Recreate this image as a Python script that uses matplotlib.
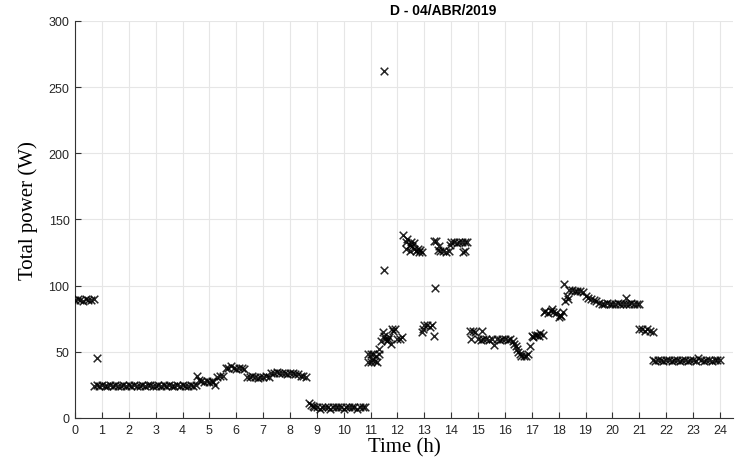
import matplotlib
matplotlib.use("Agg")
import matplotlib.pyplot as plt

# Readings, as (hour of day, total power in W)
night = [
    (0.0, 89), (0.1, 90), (0.2, 89), (0.3, 88), (0.4, 90), (0.5, 89),
    (0.6, 89), (0.7, 90), (0.8, 45),
    (0.7, 24), (0.8, 25), (0.9, 24), (1.0, 25), (1.1, 24), (1.2, 24),
    (1.3, 25), (1.4, 24), (1.5, 25), (1.6, 24), (1.7, 24), (1.8, 25),
    (1.9, 24), (2.0, 25), (2.1, 24), (2.2, 25), (2.3, 24), (2.4, 24),
    (2.5, 25), (2.6, 24), (2.7, 25), (2.8, 25), (2.9, 24), (3.0, 24),
    (3.1, 25), (3.2, 24), (3.3, 25), (3.4, 24), (3.5, 25), (3.6, 24),
    (3.7, 24), (3.8, 25), (3.9, 24), (4.0, 25), (4.1, 24), (4.2, 24),
    (4.3, 25), (4.4, 24), (4.5, 25),
]
morning = [
    (4.55, 32), (4.6, 29), (4.7, 28), (4.8, 27), (4.9, 28), (5.0, 27),
    (5.1, 28), (5.15, 27), (5.2, 25),
    (5.3, 31), (5.4, 32), (5.5, 32),
    (5.6, 38), (5.7, 38), (5.8, 39), (5.9, 38), (6.0, 37), (6.1, 38),
    (6.2, 38), (6.3, 37),
    (6.4, 31), (6.5, 31), (6.6, 32), (6.7, 31), (6.8, 30), (6.9, 31),
    (7.0, 31), (7.1, 32), (7.2, 31),
    (7.3, 34), (7.4, 34), (7.5, 35), (7.6, 34), (7.7, 34), (7.8, 34),
    (7.9, 33), (8.0, 34), (8.1, 34), (8.2, 33), (8.3, 33), (8.4, 32),
    (8.5, 32), (8.6, 31),
    (8.7, 11), (8.8, 10), (8.85, 9),
    (8.9, 8), (9.0, 8), (9.1, 7), (9.2, 8), (9.3, 8), (9.4, 8), (9.5, 7),
    (9.6, 8), (9.7, 8), (9.8, 8), (9.9, 8), (10.0, 7), (10.1, 8),
    (10.2, 8), (10.3, 8), (10.4, 8), (10.5, 7), (10.6, 8), (10.7, 8),
    (10.8, 8),
]
midday = [
    (10.9, 48), (11.0, 48), (11.1, 48), (11.2, 47), (11.3, 48),
    (10.9, 42), (11.0, 42), (11.15, 43), (11.25, 42), (11.05, 44),
    (11.3, 52), (11.4, 58), (11.45, 65), (11.5, 262), (11.5, 112),
    (11.5, 62), (11.55, 60), (11.6, 58), (11.65, 60), (11.7, 61),
    (11.75, 56), (11.8, 67), (11.85, 66), (11.9, 67), (12.0, 60),
    (12.1, 60), (12.15, 61),
    (12.2, 138), (12.3, 133), (12.35, 135), (12.45, 131), (12.3, 128),
    (12.5, 133), (12.55, 130), (12.6, 128), (12.7, 126), (12.75, 128),
    (12.8, 125), (12.9, 125), (12.45, 126), (12.6, 132), (12.85, 127),
    (12.9, 65), (12.95, 67), (13.0, 70), (13.1, 70), (13.2, 69),
    (13.3, 70), (13.35, 62), (13.38, 98),
    (13.35, 134), (13.45, 134), (13.5, 127), (13.55, 130), (13.6, 126),
    (13.7, 126), (13.8, 125), (13.9, 126), (13.95, 131), (14.0, 133),
    (14.1, 133), (14.2, 132), (14.3, 133), (14.4, 133), (14.5, 133),
    (14.6, 133), (14.45, 125), (14.5, 126),
]
afternoon = [
    (14.7, 66), (14.8, 66), (14.9, 65), (14.75, 60), (15.0, 60),
    (15.1, 59), (15.13, 66), (15.2, 60), (15.3, 60), (15.4, 59),
    (15.5, 60), (15.6, 55), (15.7, 60), (15.8, 59), (15.9, 60),
    (16.0, 60), (16.1, 59), (16.2, 60),
    (16.3, 58), (16.35, 56), (16.4, 54), (16.45, 52), (16.5, 50),
    (16.55, 48), (16.6, 47), (16.7, 47), (16.8, 47), (16.85, 48),
    (16.92, 54),
    (17.0, 62), (17.05, 61), (17.1, 63), (17.2, 63), (17.25, 62),
    (17.3, 64), (17.4, 63),
]
evening = [
    (17.45, 80), (17.5, 81), (17.6, 79), (17.7, 81), (17.75, 82),
    (17.8, 80), (17.9, 79), (18.0, 76), (18.05, 78), (18.1, 77),
    (18.15, 80),
    (18.2, 101), (18.25, 88), (18.3, 92), (18.35, 90), (18.4, 97),
    (18.5, 97), (18.6, 96), (18.7, 96), (18.8, 96), (18.9, 95),
    (19.0, 92), (19.1, 91), (19.2, 90), (19.3, 89), (19.4, 88),
    (19.5, 87), (19.6, 86), (19.7, 86), (19.8, 87), (19.9, 86),
    (20.0, 86), (20.1, 86), (20.2, 87), (20.3, 86), (20.4, 86),
    (20.5, 86), (20.5, 91), (20.6, 86), (20.7, 87), (20.8, 86),
    (20.9, 86), (21.0, 86),
    (21.0, 67), (21.1, 67), (21.2, 66), (21.3, 67), (21.4, 66),
    (21.5, 65),
    (21.5, 44), (21.6, 43), (21.7, 44), (21.8, 44), (21.9, 43),
    (22.0, 44), (22.1, 44), (22.2, 43), (22.3, 44), (22.4, 44),
    (22.5, 43), (22.6, 44), (22.7, 44), (22.8, 43), (22.9, 44),
    (23.0, 44), (23.1, 43), (23.2, 45), (23.3, 44), (23.4, 43),
    (23.5, 44), (23.6, 44), (23.7, 43), (23.8, 44), (23.9, 44),
    (24.0, 44),
]

x_ticks = list(range(0, 25))
y_ticks = [0, 50, 100, 150, 200, 250, 300]

readings = night + morning + midday + afternoon + evening
hours = [h for h, w in readings]
power = [w for h, w in readings]

fig = plt.figure(figsize=(7.43, 4.64), dpi=100)
ax = fig.add_axes([0.101, 0.097, 0.886, 0.856])

ax.scatter(hours, power, marker='x', s=30, c='black', linewidths=1.1,
           alpha=0.85, zorder=3)

ax.set_xlim(0, 24.5)
ax.set_ylim(0, 300)
ax.set_xticks(x_ticks)
ax.set_yticks(y_ticks)
ax.grid(True, color='#e6e6e6', linewidth=0.8, zorder=0)
ax.set_axisbelow(True)

for side in ('top', 'right'):
    ax.spines[side].set_visible(False)
for side in ('left', 'bottom'):
    ax.spines[side].set_color('#333333')
    ax.spines[side].set_linewidth(0.8)

ax.tick_params(direction='in', length=4, width=0.8, colors='#333333',
               labelsize=9, pad=4)
for lab in ax.get_xticklabels() + ax.get_yticklabels():
    lab.set_fontfamily('Liberation Sans')
    lab.set_color('#262626')

ax.set_xlabel('Time (h)', fontsize=15, fontfamily='Liberation Serif',
              labelpad=1)
ax.set_ylabel('Total power (W)', fontsize=15, fontfamily='Liberation Serif')
ax.yaxis.set_label_coords(-0.057, 0.526)
ax.set_title('D - 04/ABR/2019', fontsize=10, fontweight='bold',
             fontfamily='Liberation Sans', pad=5, x=0.559)

fig.savefig('out.png', dpi=100)
